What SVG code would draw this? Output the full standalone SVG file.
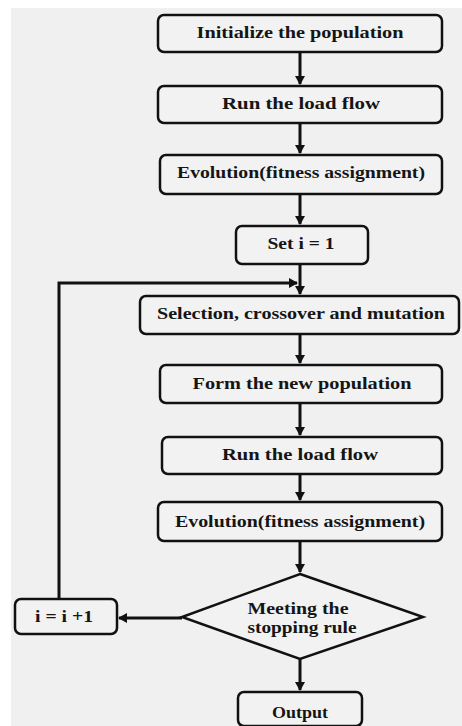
<svg xmlns="http://www.w3.org/2000/svg" width="462" height="726" viewBox="0 0 462 726">
<defs>
<marker id="ah" markerWidth="10" markerHeight="10" refX="8" refY="5" orient="auto" markerUnits="userSpaceOnUse">
<path d="M0,0 L9,5 L0,10 Z" fill="#111"/>
</marker>
<style>
.box{fill:#f2f2f2;stroke:#111;stroke-width:2.5}
.t{font-family:"Liberation Serif",serif;font-weight:bold;font-size:17px;fill:#151515;text-anchor:middle}
.c{fill:none;stroke:#111;stroke-width:3}
</style>
</defs>
<rect x="0" y="0" width="462" height="726" fill="#ffffff"/>
<rect x="11" y="8" width="451" height="718" fill="#f0f0f0"/>
<g id="connectors">
<line class="c" x1="300" y1="52" x2="300" y2="84" marker-end="url(#ah)"/>
<line class="c" x1="300" y1="123" x2="300" y2="153" marker-end="url(#ah)"/>
<line class="c" x1="300" y1="194" x2="300" y2="224" marker-end="url(#ah)"/>
<line class="c" x1="300" y1="264" x2="300" y2="294" marker-end="url(#ah)"/>
<polyline class="c" points="59,598 59,283 297,283" marker-end="url(#ah)"/>
<line class="c" x1="300" y1="334" x2="300" y2="363" marker-end="url(#ah)"/>
<line class="c" x1="300" y1="403" x2="300" y2="435" marker-end="url(#ah)"/>
<line class="c" x1="300" y1="474" x2="300" y2="500" marker-end="url(#ah)"/>
<line class="c" x1="300" y1="541" x2="300" y2="572" marker-end="url(#ah)"/>
<line class="c" x1="182" y1="618" x2="119" y2="618" marker-end="url(#ah)"/>
<line class="c" x1="300" y1="659" x2="300" y2="690" marker-end="url(#ah)"/>
</g>
<g id="n1"><rect class="box" x="158" y="15" width="284" height="37" rx="6"/><text class="t" x="300" y="38" textLength="207" lengthAdjust="spacingAndGlyphs">Initialize the population</text></g>
<g id="n2"><rect class="box" x="158" y="86" width="284" height="37" rx="6"/><text class="t" x="301" y="109" textLength="158" lengthAdjust="spacingAndGlyphs">Run the load flow</text></g>
<g id="n3"><rect class="box" x="160" y="155" width="282" height="39" rx="6"/><text class="t" x="301" y="178" textLength="248" lengthAdjust="spacingAndGlyphs">Evolution(fitness assignment)</text></g>
<g id="n4"><rect class="box" x="236" y="226" width="132" height="38" rx="6"/><text class="t" x="301" y="249" textLength="67" lengthAdjust="spacingAndGlyphs">Set i = 1</text></g>
<g id="n5"><rect class="box" x="140" y="296" width="319" height="38" rx="6"/><text class="t" x="301" y="319" textLength="288" lengthAdjust="spacingAndGlyphs">Selection, crossover and mutation</text></g>
<g id="n6"><rect class="box" x="160" y="365" width="282" height="38" rx="6"/><text class="t" x="302" y="389" textLength="219" lengthAdjust="spacingAndGlyphs">Form the new population</text></g>
<g id="n7"><rect class="box" x="162" y="437" width="280" height="37" rx="6"/><text class="t" x="300" y="460" textLength="156" lengthAdjust="spacingAndGlyphs">Run the load flow</text></g>
<g id="n8"><rect class="box" x="158" y="502" width="284" height="39" rx="6"/><text class="t" x="300" y="527" textLength="250" lengthAdjust="spacingAndGlyphs">Evolution(fitness assignment)</text></g>
<g id="n9"><polygon points="300,574 423,617 300,659 182,617" fill="#f2f2f2" stroke="#111" stroke-width="2.5"/><text class="t" x="298" y="614" textLength="101" lengthAdjust="spacingAndGlyphs">Meeting the</text><text class="t" x="302" y="633" textLength="109" lengthAdjust="spacingAndGlyphs">stopping rule</text></g>
<g id="n10"><rect class="box" x="15" y="599" width="102" height="35" rx="6"/><text class="t" x="64" y="622" textLength="58" lengthAdjust="spacingAndGlyphs">i = i +1</text></g>
<g id="n11"><rect class="box" x="238" y="692" width="124" height="34" rx="6"/><text class="t" x="300" y="718" textLength="56" lengthAdjust="spacingAndGlyphs">Output</text></g>
</svg>
